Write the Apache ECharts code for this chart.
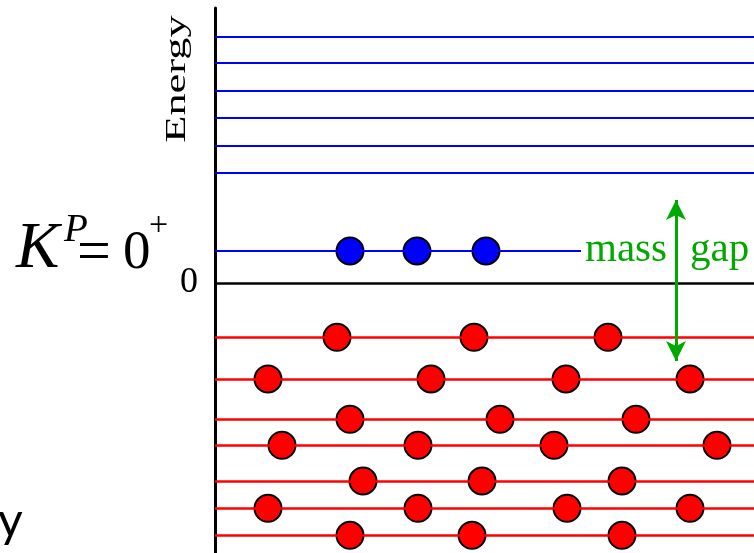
<!DOCTYPE html>
<html>
<head>
<meta charset="utf-8">
<script src="https://cdn.jsdelivr.net/npm/echarts@6/dist/echarts.min.js"></script>
<style>html,body{margin:0;padding:0;background:#fff}#c{width:754px;height:553px}</style>
</head>
<body>
<div id="c"></div>
<script>
// Energy levels (arbitrary units, 0 = vacuum)
const blueLevels = [2.463, 2.197, 1.923, 1.653, 1.37, 1.097];
const groundLevel = 0.32;
const groundLineEnd = 3.66;
const groundDotsX = [1.35, 2.02, 2.71];
const zeroLevel = 0;
const redLevels = [-0.543, -0.96, -1.363, -1.623, -1.98, -2.253, -2.523];
const redDotsX = [
  [1.22, 2.59, 3.93],
  [0.53, 2.16, 3.51, 4.75],
  [1.35, 2.85, 4.21],
  [0.67, 2.03, 3.39, 5.02],
  [1.48, 2.67, 4.07],
  [0.53, 2.03, 3.52, 4.75],
  [1.35, 2.57, 4.07]
];
const gapArrowX = 4.61;
const gapArrowTop = 0.83;
const gapArrowBottom = -0.78;
const yTickLabels = [0];

const redDots = [];
redLevels.forEach((lv, i) => redDotsX[i].forEach(x => redDots.push([x, lv])));
const blueDots = groundDotsX.map(x => [x, groundLevel]);

const chart = echarts.init(document.getElementById('c'), null, {renderer: 'canvas'});
const serif = 'Liberation Serif';
chart.setOption({
  animation: false,
  backgroundColor: '#ffffff',
  grid: {left: 215, right: 0, top: 8, bottom: 0, containLabel: false},
  xAxis: {type: 'value', min: 0, max: 5.39, show: false},
  yAxis: {
    type: 'value', min: -2.70, max: 2.75,
    axisLine: {show: true, lineStyle: {color: '#000', width: 3}},
    axisTick: {show: false},
    splitLine: {show: false},
    axisLabel: {customValues: yTickLabels, fontFamily: serif, fontSize: 36, color: '#000', margin: 17}
  },
  series: [
    {
      type: 'scatter', data: [], silent: true,
      markLine: {
        silent: true, symbol: ['none', 'none'], label: {show: false},
        lineStyle: {color: '#0000ff', width: 2, type: 'solid'},
        data: blueLevels.map(v => ({yAxis: v})).concat([[{coord: [0, groundLevel]}, {coord: [groundLineEnd, groundLevel]}]])
      }
    },
    {
      type: 'scatter', data: [], silent: true,
      markLine: {
        silent: true, symbol: ['none', 'none'], label: {show: false},
        lineStyle: {color: '#000000', width: 2.5, type: 'solid'},
        data: [{yAxis: zeroLevel}]
      }
    },
    {
      type: 'scatter', data: [], silent: true,
      markLine: {
        silent: true, symbol: ['none', 'none'], label: {show: false},
        lineStyle: {color: '#ff0000', width: 2.5, type: 'solid'},
        data: redLevels.map(v => ({yAxis: v}))
      }
    },
    {
      type: 'scatter', data: [], silent: true, z: 5,
      markLine: {
        silent: true, symbol: ['arrow', 'arrow'], symbolSize: [15, 20], label: {show: false},
        lineStyle: {color: '#00a800', width: 3, type: 'solid'},
        data: [[{coord: [gapArrowX, gapArrowTop]}, {coord: [gapArrowX, gapArrowBottom]}]]
      }
    },
    {
      type: 'scatter', data: redDots, symbolSize: 27, z: 4,
      itemStyle: {color: '#ff0000', borderColor: '#000', borderWidth: 2, opacity: 1}
    },
    {
      type: 'scatter', data: blueDots, symbolSize: 27, z: 4,
      itemStyle: {color: '#0000ff', borderColor: '#000', borderWidth: 2, opacity: 1}
    }
  ],
  graphic: [
    {type: 'text', x: 177, y: 79, rotation: Math.PI / 2, scaleX: 1.48,
      style: {text: 'Energy', font: '30px "Liberation Serif"', fill: '#000', textAlign: 'center', textVerticalAlign: 'middle'}},
    {type: 'text', x: 667, y: 250,
      style: {text: 'mass', font: '41px "Liberation Serif"', fill: '#00a800', textAlign: 'right', textVerticalAlign: 'middle'}},
    {type: 'text', x: 690, y: 250,
      style: {text: 'gap', font: '41px "Liberation Serif"', fill: '#00a800', textAlign: 'left', textVerticalAlign: 'middle'}},
    {type: 'text', x: 16, y: 250,
      style: {text: 'K', font: 'italic 65px "Liberation Serif"', fill: '#000', textAlign: 'left', textVerticalAlign: 'middle'}},
    {type: 'text', x: 64, y: 231,
      style: {text: 'P', font: 'italic 39px "Liberation Serif"', fill: '#000', textAlign: 'left', textVerticalAlign: 'middle'}},
    {type: 'text', x: 77, y: 254,
      style: {text: '=', font: '60px "Liberation Serif"', fill: '#000', textAlign: 'left', textVerticalAlign: 'middle'}},
    {type: 'text', x: 123, y: 254,
      style: {text: '0', font: '55px "Liberation Serif"', fill: '#000', textAlign: 'left', textVerticalAlign: 'middle'}},
    {type: 'text', x: 149, y: 226,
      style: {text: '+', font: '34px "Liberation Serif"', fill: '#000', textAlign: 'left', textVerticalAlign: 'middle'}},
    {type: 'text', x: -2, y: 522,
      style: {text: 'y', font: '48px Lato', fill: '#000', textAlign: 'left', textVerticalAlign: 'middle'}}
  ]
});
</script>
</body>
</html>
